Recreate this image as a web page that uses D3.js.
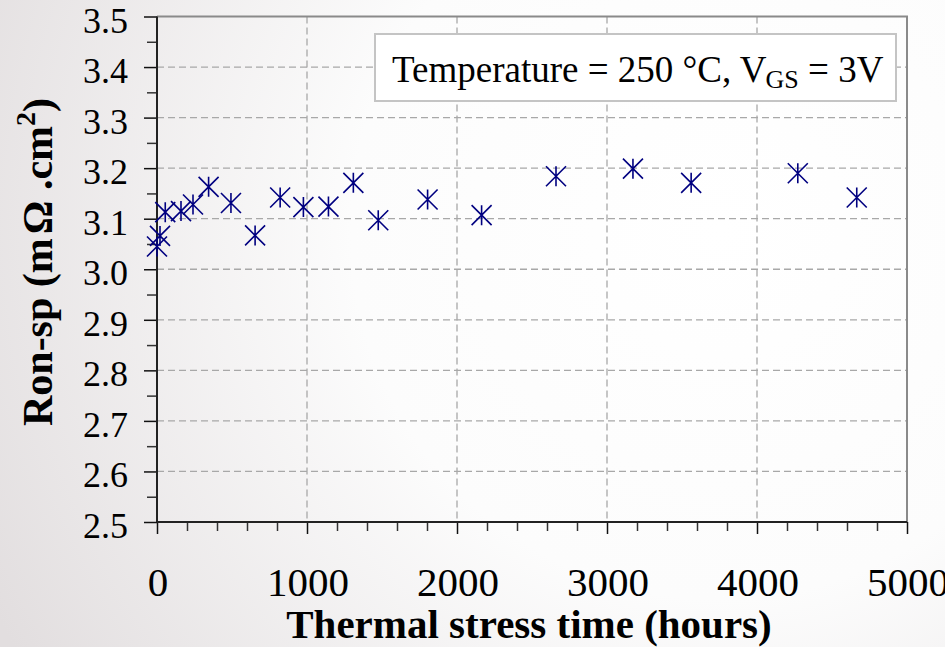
<!DOCTYPE html>
<html>
<head>
<meta charset="utf-8">
<script src="https://cdn.jsdelivr.net/npm/d3@7"></script>
<style>
  html, body { margin: 0; padding: 0; }
  body { width: 945px; height: 647px; overflow: hidden; }
  text { font-family: "Liberation Serif", "Times New Roman", serif; fill: #000; }
</style>
</head>
<body>
<svg id="chart" width="945" height="647"></svg>
<script>
// stress time (hours) and specific on-resistance (mOhm.cm2)
let hours = [0, 20, 55, 160, 240, 344, 493, 654, 821, 976, 1143, 1309, 1475, 1804, 2164, 2660, 3173, 3561, 4272, 4665]
let ronSp = [3.045, 3.066, 3.113, 3.115, 3.128, 3.163, 3.131, 3.067, 3.142, 3.123, 3.124, 3.171, 3.097, 3.138, 3.107, 3.184, 3.199, 3.171, 3.190, 3.142]
let xTicks = [0, 1000, 2000, 3000, 4000, 5000]
let yTicks = [2.5, 2.6, 2.7, 2.8, 2.9, 3.0, 3.1, 3.2, 3.3, 3.4, 3.5]

let width = 945
let height = 647
let plotLeft = 157, plotRight = 907, plotTop = 16.5, plotBottom = 522

let svg = d3.select("#chart")

// background shading
let defs = svg.append("defs")
let grad = defs.append("radialGradient")
    .attr("id", "bg")
    .attr("gradientUnits", "userSpaceOnUse")
    .attr("cx", 720).attr("cy", 230).attr("r", 820)
grad.append("stop").attr("offset", "0%").attr("stop-color", "#ffffff")
grad.append("stop").attr("offset", "45%").attr("stop-color", "#fcfcfc")
grad.append("stop").attr("offset", "100%").attr("stop-color", "#e2dedf")
svg.append("rect").attr("width", width).attr("height", height).attr("fill", "url(#bg)")

let x = d3.scaleLinear().domain([0, 5000]).range([plotLeft, plotRight])
let y = d3.scaleLinear().domain([2.5, 3.5]).range([plotBottom, plotTop])

// dashed grid
svg.append("g").selectAll("line")
    .data(yTicks.slice(1, -1))
    .join("line")
    .attr("x1", plotLeft).attr("x2", plotRight)
    .attr("y1", d => y(d)).attr("y2", d => y(d))
    .attr("stroke", "#a8a8a8").attr("stroke-width", 1.3)
    .attr("stroke-dasharray", "7,4")
svg.append("g").selectAll("line")
    .data(xTicks.slice(1, -1))
    .join("line")
    .attr("x1", d => x(d)).attr("x2", d => x(d))
    .attr("y1", plotTop).attr("y2", plotBottom)
    .attr("stroke", "#a8a8a8").attr("stroke-width", 1.3)
    .attr("stroke-dasharray", "7,4")

// top / right frame
svg.append("path")
    .attr("d", `M${plotLeft},${plotTop}H${plotRight}V${plotBottom}`)
    .attr("fill", "none").attr("stroke", "#8a8a8a").attr("stroke-width", 2)

// axes
let xAxis = svg.append("g")
    .attr("transform", `translate(0,${plotBottom})`)
    .call(d3.axisBottom(x).tickValues(d3.range(0, 5001, 200)).tickSize(9).tickFormat(""))
xAxis.select(".domain").remove()
xAxis.selectAll(".tick line").attr("stroke", "#333").attr("stroke-width", 1.5)
    .filter(d => d % 1000 === 0).attr("y2", 12).attr("stroke", "#111")

let yAxis = svg.append("g")
    .attr("transform", `translate(${plotLeft},0)`)
    .call(d3.axisLeft(y).tickValues(d3.range(2.5, 3.501, 0.05)).tickSize(10).tickFormat(""))
yAxis.select(".domain").remove()
yAxis.selectAll(".tick line").attr("stroke", "#333").attr("stroke-width", 1.5)
    .filter((d, i) => i % 2 === 0).attr("x2", -13).attr("stroke", "#111")

svg.append("line").attr("x1", plotLeft).attr("x2", plotRight).attr("y1", plotBottom).attr("y2", plotBottom)
    .attr("stroke", "#222").attr("stroke-width", 2)
svg.append("line").attr("x1", plotLeft).attr("x2", plotLeft).attr("y1", plotTop).attr("y2", plotBottom)
    .attr("stroke", "#222").attr("stroke-width", 2)

// tick labels
svg.append("g").selectAll("text")
    .data(yTicks)
    .join("text")
    .attr("x", 128)
    .attr("y", d => y(d) + 16)
    .attr("text-anchor", "end")
    .style("font-size", "36px")
    .text(d => d.toFixed(1))

svg.append("g").selectAll("text")
    .data(xTicks)
    .join("text")
    .attr("x", d => x(d) + 1)
    .attr("y", 596)
    .attr("text-anchor", "middle")
    .style("font-size", "41px")
    .text(d => d)

// axis titles
svg.append("text")
    .attr("x", 529).attr("y", 638)
    .attr("text-anchor", "middle")
    .style("font-size", "41px").style("font-weight", "bold")
    .text("Thermal stress time (hours)")

let yTitle = svg.append("text")
    .attr("transform", "translate(52,262) rotate(-90)")
    .attr("text-anchor", "middle")
    .style("font-size", "42px").style("font-weight", "bold")
yTitle.append("tspan").text("Ron-sp (m")
yTitle.append("tspan").attr("dx", 4).text("Ω .cm")
yTitle.append("tspan").attr("dy", -17).style("font-size", "28px").text("2")
yTitle.append("tspan").attr("dy", 17).text(")")

// legend box
svg.append("rect")
    .attr("x", 375).attr("y", 34).attr("width", 521).attr("height", 67)
    .attr("fill", "#fff").attr("stroke", "#c4c4c4").attr("stroke-width", 2)
let leg = svg.append("text")
    .attr("x", 392).attr("y", 82)
    .style("font-size", "37px")
leg.append("tspan").text("Temperature = 250 °C, V")
leg.append("tspan").attr("dy", 6).attr("dx", -1).style("font-size", "26px").text("GS")
leg.append("tspan").attr("dy", -6).text(" = 3V")

// asterisk markers
let r = 10
let marker = svg.append("g").selectAll("path")
    .data(hours.map((h, i) => [h, ronSp[i]]))
    .join("path")
    .attr("transform", d => `translate(${x(d[0])},${y(d[1])})`)
    .attr("d", `M0,${-r}V${r}M${-r},${-r}L${r},${r}M${-r},${r}L${r},${-r}`)
    .attr("fill", "none")
    .attr("stroke", "#000080")
    .attr("stroke-width", 1.6)
</script>
</body>
</html>
